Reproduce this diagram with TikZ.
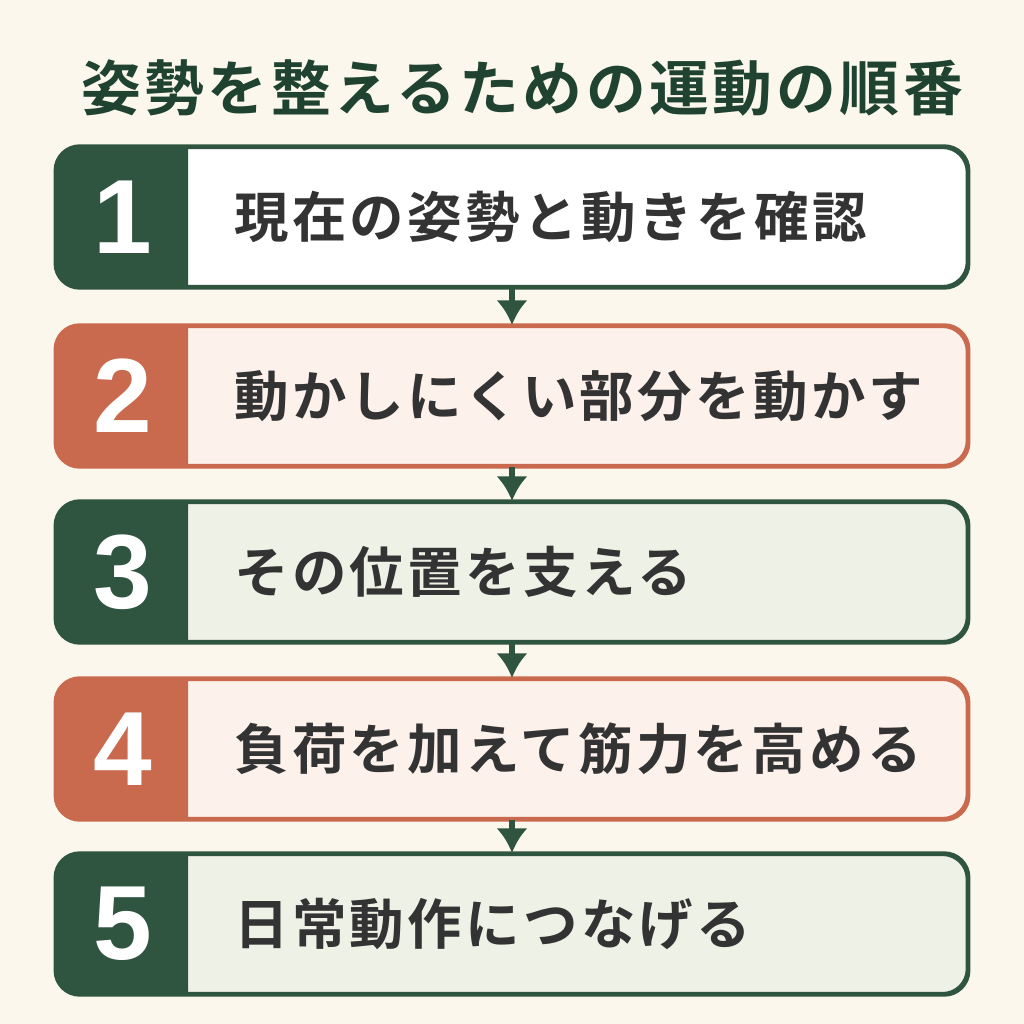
\documentclass[tikz,border=0pt]{standalone}
\usepackage{fontspec}
\newfontfamily\jpfont[LetterSpace=6]{Noto Sans CJK JP Bold}
\newfontfamily\numfont{Liberation Sans}
\usetikzlibrary{positioning}
\usetikzlibrary{arrows.meta}
\definecolor{bgcream}{HTML}{FBF7EC}
\definecolor{darkgreen}{HTML}{2F5540}
\definecolor{titlegreen}{HTML}{1F4330}
\definecolor{rust}{HTML}{C9694D}
\definecolor{pinkfill}{HTML}{FDF1EB}
\definecolor{sagefill}{HTML}{EEF1E6}
\definecolor{inktext}{HTML}{333333}

\tikzset{
  step/.style = {draw = #1, line width = 0.9pt, rounded corners = 7pt,
    minimum width = 9.1cm, minimum height = 1.39cm, inner sep = 0pt},
  steptext/.style = {font = \jpfont\fontsize{15.5}{18}\selectfont, text = inktext,
    anchor = west},
  stepnum/.style = {font = \numfont\bfseries\fontsize{30}{32}\selectfont, text = white}
}

\begin{document}
\begin{tikzpicture}[x = 0.01cm, y = -0.01cm]
  \fill[bgcream] (0, 0) rectangle (1024, 1024);
  \useasboundingbox (0, 0) rectangle (1024, 1024);

  \node[font = \jpfont\fontsize{17}{20}\selectfont, text = titlegreen] (title)
  at (522, 88) {姿勢を整えるための運動の順番};

  \foreach \n/\y/\col/\bg/\txt in {
    1/217/darkgreen/white/現在の姿勢と動きを確認,
    2/396/rust/pinkfill/動かしにくい部分を動かす,
    3/572/darkgreen/sagefill/その位置を支える,
    4/749/rust/pinkfill/負荷を加えて筋力を高める,
    5/924/darkgreen/sagefill/日常動作につなげる}{
    \node[step = \col, fill = \bg] (box\n) at (512, \y) {};
    \fill[\col] (box\n.north west) ++(133, 0) [rounded corners = 7pt]
      -- (box\n.north west) -- (box\n.south west) [sharp corners]
      -- ++(133, 0) -- cycle;
    \draw[\col, line width = 0.9pt, rounded corners = 7pt]
      (box\n.north west) rectangle (box\n.south east);
    \node[stepnum] (num\n) at (123, \y) {\n};
    \node[steptext] (label\n) at (222, \y) {\txt};
  }

  \foreach \a/\b in {1/2, 2/3, 3/4, 4/5}{
    \draw[darkgreen, line width = 1.6pt, -{Latex[length = 7pt, width = 9pt]}]
      (box\a.south) -- (box\b.north);
  }
\end{tikzpicture}
\end{document}
